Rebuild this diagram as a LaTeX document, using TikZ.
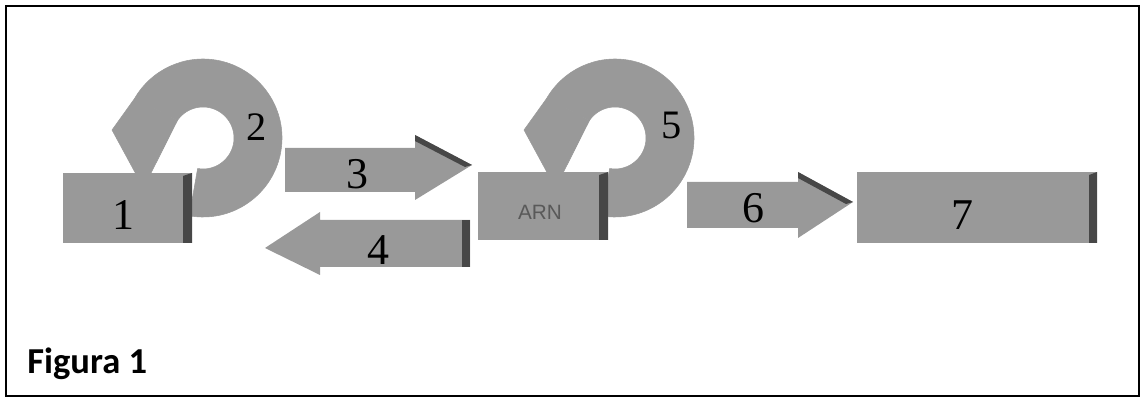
\documentclass[tikz,border=0pt]{standalone}
\usepackage{fontspec}
\setmainfont{Liberation Serif}
\newfontfamily\figfont{Carlito}
\newfontfamily\arnfont{Liberation Sans}
\begin{document}
\begin{tikzpicture}[x=0.02cm,y=-0.02cm,
  shapefill/.style={fill=black!40},
  ringfill/.style={fill=black!40, draw=black!40, line width=0.3pt},
  shadestrip/.style={fill=black!72},
  num/.style={font=\fontsize{25}{25}\selectfont, inner sep=0pt},
  ringnum/.style={font=\fontsize{23}{23}\selectfont, inner sep=0pt},
  ringbody/.pic={
    \filldraw[ringfill] (100:79) arc[start angle=100,end angle=-150,radius=79]
      -- (-145:31) arc[start angle=-145,end angle=100,radius=31] -- cycle;
    \filldraw[ringfill] (-150:79) -- (-91,-8) -- (-59.5,50) -- (-145:31) -- cycle;
  }]
\useasboundingbox (0,0) rectangle (1142,398);
\draw[line width=1.15pt] (6,6) rectangle (1139,396);

% circular arrows 2 and 5
\pic at (203,138) {ringbody};
\pic at (615,138) {ringbody};

% arrow 3
\fill[shapefill] (285,148) -- (415,148) -- (415,135) -- (472,165) -- (415,200) -- (415,192) -- (285,192) -- cycle;
\fill[shadestrip] (415,135) -- (472,165) -- (465,167) -- (415,141) -- cycle;
% arrow 4
\fill[shapefill] (470,220) -- (320,220) -- (320,212) -- (265,248) -- (320,275) -- (320,267) -- (470,267) -- cycle;
\fill[shadestrip] (462,220) rectangle (470,267);
% arrow 6
\fill[shapefill] (687,182) -- (798,182) -- (798,172) -- (853,202) -- (798,238) -- (798,228) -- (687,228) -- cycle;
\fill[shadestrip] (798,172) -- (853,202) -- (846,204) -- (798,178) -- cycle;

% box 1
\fill[shapefill] (63,173) rectangle (192,243);
\fill[shadestrip] (183,176) -- (192,173) -- (192,243) -- (183,243) -- cycle;
% box ARN
\fill[shapefill] (478,172) rectangle (608,240);
\fill[shadestrip] (599,175) -- (608,172) -- (608,240) -- (599,240) -- cycle;
% box 7
\fill[shapefill] (857,172) rectangle (1097,243);
\fill[shadestrip] (1089,175) -- (1097,172) -- (1097,243) -- (1089,243) -- cycle;

% labels
\node[num] (l1) at (123,215) {1};
\node[ringnum] (l2) at (257,127) {2};
\node[num] (l3) at (357,174) {3};
\node[num] (l4) at (378,250) {4};
\node[ringnum] (l5) at (672,125) {5};
\node[num] (l6) at (753,208) {6};
\node[num] (l7) at (962,215) {7};
\node[inner sep=0pt, font=\arnfont\fontsize{11.8}{12}\selectfont, text=black!65] (arn) at (540,212) {ARN};
\node[anchor=base west, inner sep=0pt, font=\figfont\bfseries\fontsize{20.8}{21}\selectfont] (fig) at (27,374) {Figura 1};
\end{tikzpicture}
\end{document}
